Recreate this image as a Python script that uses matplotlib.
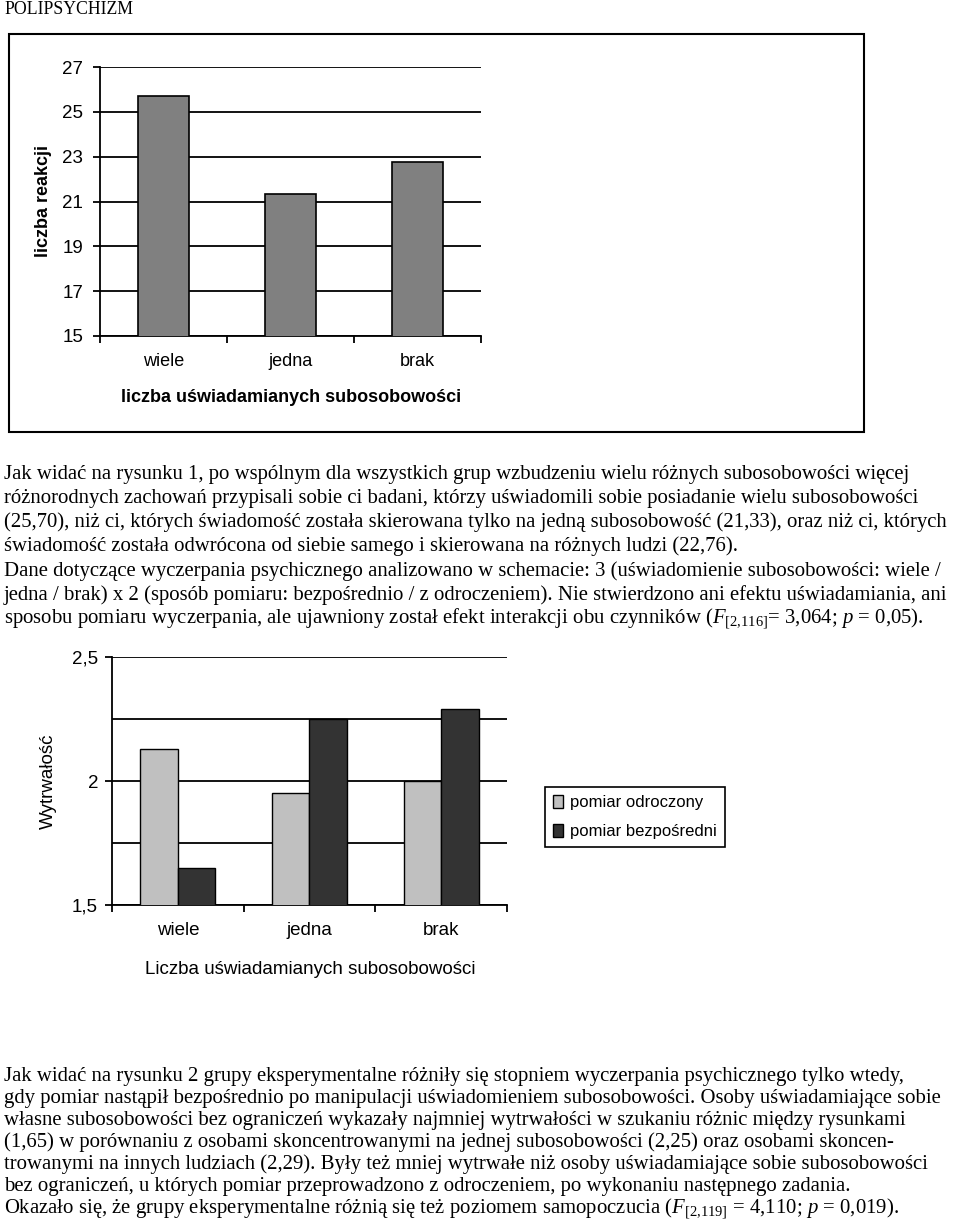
import numpy as np
import matplotlib
matplotlib.use("Agg")
import matplotlib.pyplot as plt
from matplotlib.patches import Rectangle, Patch

# ---------------- data ----------------
categories = ["wiele", "jedna", "brak"]
reactions = [25.70, 21.33, 22.76]            # chart 1: liczba reakcji
delayed = [2.13, 1.95, 2.00]                 # chart 2: pomiar odroczony
direct = [1.65, 2.25, 2.29]                  # chart 2: pomiar bezpośredni
series_labels = ["pomiar odroczony", "pomiar bezpośredni"]
y1_ticks = [15, 17, 19, 21, 23, 25, 27]
y2_ticks = [1.5, 2.0, 2.5]
y2_ticklabels = ["1,5", "2", "2,5"]
y2_minor = [1.75, 2.25]

header = "POLIPSYCHIZM"
para1 = [
    "Jak widać na rysunku 1, po wspólnym dla wszystkich grup wzbudzeniu wielu różnych subosobowości więcej",
    "różnorodnych zachowań przypisali sobie ci badani, którzy uświadomili sobie posiadanie wielu subosobowości",
    "(25,70), niż ci, których świadomość została skierowana tylko na jedną subosobowość (21,33), oraz niż ci, których",
    "świadomość została odwrócona od siebie samego i skierowana na różnych ludzi (22,76).",
    "Dane dotyczące wyczerpania psychicznego analizowano w schemacie: 3 (uświadomienie subosobowości: wiele /",
    "jedna / brak) x 2 (sposób pomiaru: bezpośrednio / z odroczeniem). Nie stwierdzono ani efektu uświadamiania, ani",
    "sposobu pomiaru wyczerpania, ale ujawniony został efekt interakcji obu czynników ($F_{[2{,}116]}$= 3,064; $p$ = 0,05).",
]
para2 = [
    "Jak widać na rysunku 2 grupy eksperymentalne różniły się stopniem wyczerpania psychicznego tylko wtedy,",
    "gdy pomiar nastąpił bezpośrednio po manipulacji uświadomieniem subosobowości. Osoby uświadamiające sobie",
    "własne subosobowości bez ograniczeń wykazały najmniej wytrwałości w szukaniu różnic między rysunkami",
    "(1,65) w porównaniu z osobami skoncentrowanymi na jednej subosobowości (2,25) oraz osobami skoncen-",
    "trowanymi na innych ludziach (2,29). Były też mniej wytrwałe niż osoby uświadamiające sobie subosobowości",
    "bez ograniczeń, u których pomiar przeprowadzono z odroczeniem, po wykonaniu następnego zadania.",
    "Okazało się, że grupy eksperymentalne różnią się też poziomem samopoczucia ($F_{[2{,}119]}$ = 4,110; $p$ = 0,019).",
]

# ---------------- setup ----------------
plt.rcParams["font.family"] = ["Liberation Sans", "DejaVu Sans"]
plt.rcParams["mathtext.fontset"] = "custom"
plt.rcParams["mathtext.rm"] = "Liberation Serif"
plt.rcParams["mathtext.it"] = "Liberation Serif:italic"

W, H = 960, 1219
fig = plt.figure(figsize=(W / 100, H / 100), dpi=100)


def rect(l, t, r, b):
    return [l / W, 1 - b / H, (r - l) / W, (b - t) / H]


def fx(x):
    return x / W


def fy(y):
    return 1 - y / H


serif = ["Liberation Serif", "DejaVu Serif"]
body_size = 14.95

# header
fig.text(fx(4), fy(10), header, family=serif, fontsize=12.8, va="center", ha="left")

# frame around chart 1
fig.patches.append(Rectangle((fx(9), fy(432)), (864 - 9) / W, (432 - 34) / H,
                             transform=fig.transFigure, fill=False,
                             edgecolor="black", linewidth=1.5))

# ---------------- chart 1 ----------------
ax1 = fig.add_axes(rect(100, 67, 481, 336))
x = np.arange(len(categories))
ax1.bar(x, reactions, width=0.4, color="#808080", edgecolor="black",
        linewidth=1.2, zorder=3)
ax1.set_xlim(-0.5, 2.5)
ax1.set_ylim(15, 27)
ax1.set_yticks(y1_ticks)
ax1.set_yticklabels([str(v) for v in y1_ticks], fontsize=13.5)
ax1.yaxis.grid(True, color="black", linewidth=1.3, zorder=0)
ax1.set_axisbelow(True)
for s in ["top", "right"]:
    ax1.spines[s].set_visible(False)
for s in ["left", "bottom"]:
    ax1.spines[s].set_linewidth(1.3)
ax1.set_xticks([-0.5, 0.5, 1.5, 2.5])
ax1.set_xticklabels([])
ax1.set_xticks(x, minor=True)
ax1.set_xticklabels(categories, minor=True, fontsize=13)
ax1.tick_params(axis="x", which="major", direction="out", length=5, width=1.3)
ax1.tick_params(axis="x", which="minor", length=0, pad=12)
ax1.tick_params(axis="y", direction="out", length=5, width=1.3, pad=7)
fig.text(fx(43), fy(201), "liczba reakcji", rotation=90, fontsize=13,
         fontweight="bold", ha="center", va="center")
fig.text(fx(291), fy(397), "liczba uświadamianych subosobowości", fontsize=13,
         fontweight="bold", ha="center", va="center")

# ---------------- paragraph 1 ----------------
for i, line in enumerate(para1):
    fig.text(fx(4), fy(474 + i * 24.2), line, family=serif, fontsize=body_size,
             va="center", ha="left")

# ---------------- chart 2 ----------------
ax2 = fig.add_axes(rect(112, 657, 507, 905))
bw = 0.285
ax2.bar(x - bw / 2, delayed, width=bw, color="#c0c0c0", edgecolor="black",
        linewidth=1.0, zorder=3, label=series_labels[0])
ax2.bar(x + bw / 2, direct, width=bw, color="#333333", edgecolor="black",
        linewidth=1.0, zorder=3, label=series_labels[1])
ax2.set_xlim(-0.5, 2.5)
ax2.set_ylim(1.5, 2.5)
ax2.set_yticks(y2_ticks)
ax2.set_yticklabels(y2_ticklabels, fontsize=13.5)
ax2.set_yticks(y2_minor, minor=True)
ax2.yaxis.grid(True, which="both", color="black", linewidth=1.3, zorder=0)
ax2.set_axisbelow(True)
for s in ["top", "right"]:
    ax2.spines[s].set_visible(False)
for s in ["left", "bottom"]:
    ax2.spines[s].set_linewidth(1.3)
ax2.set_xticks([-0.5, 0.5, 1.5, 2.5])
ax2.set_xticklabels([])
ax2.set_xticks(x, minor=True)
ax2.set_xticklabels(categories, minor=True, fontsize=13.5)
ax2.tick_params(axis="x", which="major", direction="out", length=5, width=1.3)
ax2.tick_params(axis="x", which="minor", length=0, pad=12)
ax2.tick_params(axis="y", which="major", direction="out", length=5, width=1.3, pad=5)
ax2.tick_params(axis="y", which="minor", length=0)
fig.text(fx(48), fy(781), "Wytrwałość", rotation=90, fontsize=13.5,
         ha="center", va="center")
fig.text(fx(310), fy(969), "Liczba uświadamianych subosobowości", fontsize=13.5,
         ha="center", va="center")

handles = [Patch(facecolor="#c0c0c0", edgecolor="black"),
           Patch(facecolor="#333333", edgecolor="black")]
leg = fig.legend(handles, series_labels, loc="upper left",
                 bbox_to_anchor=(fx(545), fy(787)), frameon=True, fancybox=False,
                 edgecolor="black", fontsize=12, handlelength=0.6,
                 handleheight=0.8, handletextpad=0.4, borderpad=0.5,
                 labelspacing=0.8, borderaxespad=0, framealpha=1)
leg.get_frame().set_linewidth(1.2)

# ---------------- paragraph 2 ----------------
for i, line in enumerate(para2):
    fig.text(fx(4), fy(1076 + i * 22.1), line, family=serif, fontsize=body_size,
             va="center", ha="left")

fig.savefig("out.png", dpi=100)
